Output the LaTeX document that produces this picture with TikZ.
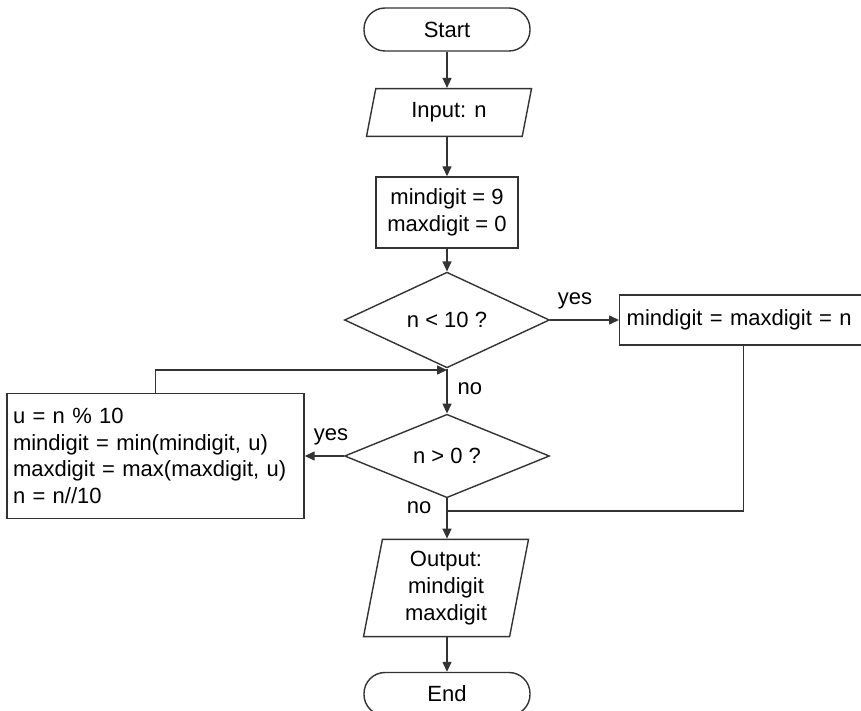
\documentclass[tikz,border=0pt]{standalone}
\usepackage{fontspec}
\setmainfont{Liberation Sans}
\usetikzlibrary{shapes.geometric,arrows.meta}
\definecolor{ink}{HTML}{333333}
\begin{document}
\begin{tikzpicture}[x=1pt,y=-1pt,
  every node/.style={font=\fontsize{22}{26.7}\selectfont, text=black},
  base/.style={draw=ink, line width=1.4pt, inner sep=0pt, fill=white},
  terminal/.style={base, rectangle, rounded corners=21pt, minimum width=166pt, minimum height=43pt},
  io/.style={base, trapezium, trapezium left angle=79, trapezium right angle=101,
    trapezium stretches body, minimum width=165pt, align=center},
  process/.style={base, rectangle},
  decision/.style={base, diamond, minimum width=205pt, minimum height=65pt},
  flow/.style={draw=ink, line width=1.4pt, -{Triangle[length=10pt,width=9pt]}},
  link/.style={draw=ink, line width=1.4pt},
  lbl/.style={inner sep=0pt}
]
\useasboundingbox (0,0) rectangle (861,711);
\clip (0,0) rectangle (861,711);

% main column
\node[terminal] (start) at (447,29.5) {Start};
\node[io, inner ysep=14pt] (input) at (449,112.5) {Input: n};
\node[process, minimum width=142pt, minimum height=71pt, align=center] (init) at (447,212.5)
  {mindigit = 9\\maxdigit = 0};
\node[decision] (test1) at (447,320) {n < 10 ?};
\node[decision] (test2) at (447,456) {n > 0 ?};
\node[io, inner ysep=12pt] (output) at (446,588) {Output:\\mindigit\\maxdigit};
\node[terminal] (end) at (447,694) {End};

% side boxes
\node[process, anchor=west, minimum height=50pt, text width=233pt, inner xsep=7pt, align=left]
  (assign) at (619,320) {mindigit = maxdigit = n};
\node[process, text width=285pt, inner xsep=6pt, minimum height=125pt, align=left]
  (loop) at (155.5,456)
  {u = n \% 10\\mindigit = min(mindigit, u)\\maxdigit = max(maxdigit, u)\\n = n//10};

% junction points on the main column
\coordinate (merge) at (447,370);
\coordinate (join) at (447,511);

% connectors
\draw[flow] (start) -- (start |- input.north);
\draw[flow] (input.south -| init) -- (init);
\draw[flow] (init) -- (test1);
\draw[flow] (test1.east) -- node[lbl, above=10pt, pos=.36] {yes} (assign.west);
\draw[flow] (test1) -- node[lbl, right=10pt, pos=.45] {no} (test2);
\draw[flow] (test2.west) -- node[lbl, above=10pt, pos=.33] {yes} (loop.east);
\draw[flow] (test2) -- node[lbl, left=15pt, pos=.24] {no} (test2 |- output.north);
\draw[flow] (output.south -| end) -- (end);
\draw[flow] (loop.north) |- (merge);
\draw[link] (assign.south) |- (join);
\end{tikzpicture}
\end{document}
